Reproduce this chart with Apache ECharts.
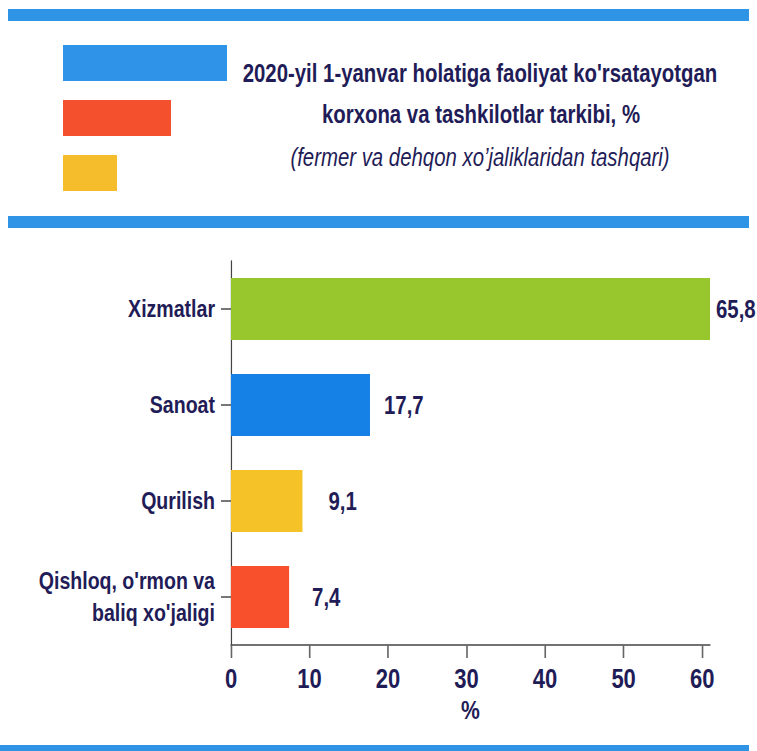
<!DOCTYPE html>
<html>
<head>
<meta charset="utf-8">
<script src="https://cdn.jsdelivr.net/npm/echarts@6/dist/echarts.min.js"></script>
<style>
  html, body { margin: 0; padding: 0; background: #fff; overflow: hidden; width: 757px; height: 751px; }
  /* the reference uses a narrow font: draw wider and squeeze horizontally */
  #chart { width: 929px; height: 751px; transform: scaleX(0.815); transform-origin: 0 0; }
</style>
</head>
<body>
<div id="chart"></div>
<script>
// tarmoqlar (yuqoridan pastga)
const categories = ["Xizmatlar", "Sanoat", "Qurilish", "Qishloq, o'rmon va\nbaliq xo'jaligi"];
const shares = [65.8, 17.7, 9.1, 7.4];
const barColors = ["#97c72c", "#1580e6", "#f5c227", "#f8502c"];
const xTicks = [0, 10, 20, 30, 40, 50, 60];

const S = 0.815; // horizontal squeeze
function sx(px) { return px / S; }

const FONT = "'Liberation Sans', Arial, sans-serif";
const NAVY = "#1f1c57";
// label gap to the right of each bar (screen px)
const labelGap = [6, 14, 26, 23];

const myChart = echarts.init(document.getElementById("chart"), null, { renderer: "svg" });

const option = {
  backgroundColor: "#fff",
  animation: false,
  graphic: [
    // stripes
    { type: "rect", shape: { x: sx(8), y: 9, width: sx(741), height: 12 }, style: { fill: "#2f93e6" } },
    { type: "rect", shape: { x: sx(8), y: 216, width: sx(741), height: 12 }, style: { fill: "#2f93e6" } },
    { type: "rect", shape: { x: 0, y: 745, width: sx(749), height: 8 }, style: { fill: "#2f93e6" } },
    // decorative bars in the header
    { type: "rect", shape: { x: sx(63), y: 45, width: sx(164), height: 36 }, style: { fill: "#2f93e8" } },
    { type: "rect", shape: { x: sx(63), y: 100, width: sx(108), height: 36 }, style: { fill: "#f5502d" } },
    { type: "rect", shape: { x: sx(63), y: 155, width: sx(54), height: 36 }, style: { fill: "#f5bc2c" } },
    // title
    {
      type: "text", x: sx(480), y: 73,
      style: {
        text: "2020-yil 1-yanvar holatiga faoliyat ko'rsatayotgan",
        font: "bold 25px " + FONT, fill: NAVY, textAlign: "center", textVerticalAlign: "middle"
      }
    },
    {
      type: "text", x: sx(481), y: 114,
      style: {
        text: "korxona va tashkilotlar tarkibi, %",
        font: "bold 25px " + FONT, fill: NAVY, textAlign: "center", textVerticalAlign: "middle"
      }
    },
    {
      type: "text", x: sx(480), y: 157,
      style: {
        text: "(fermer va dehqon xo\u2019jaliklaridan tashqari)",
        font: "italic 25px " + FONT, fill: NAVY, textAlign: "center", textVerticalAlign: "middle"
      }
    }
  ],
  grid: {
    left: sx(231),
    top: 261,
    width: sx(479),
    height: 384,
    outerBoundsMode: "none"
  },
  xAxis: {
    type: "value",
    min: 0,
    max: 61,
    interval: 10,
    name: "%",
    nameLocation: "middle",
    nameGap: 52,
    nameTextStyle: { color: NAVY, fontFamily: FONT, fontWeight: "bold", fontSize: 26 },
    axisLine: { show: true, lineStyle: { color: "#444", width: 1.5 } },
    axisTick: { show: true, length: 13, lineStyle: { color: "#666", width: 2 } },
    axisLabel: {
      color: NAVY, fontFamily: FONT, fontWeight: "bold", fontSize: 27, margin: 20,
      showMaxLabel: false,
      formatter: function (v) { return xTicks.indexOf(v) > -1 ? String(v) : ""; }
    },
    splitLine: { show: false }
  },
  yAxis: {
    type: "category",
    inverse: true,
    data: categories,
    axisLine: { lineStyle: { color: "#444", width: 1.5 } },
    axisTick: { show: true, alignWithLabel: true, length: sx(10), lineStyle: { color: "#777", width: 2 } },
    axisLabel: {
      color: NAVY, fontFamily: FONT, fontWeight: "bold", fontSize: 24, margin: sx(16),
      lineHeight: 32, align: "right"
    }
  },
  series: [
    {
      type: "bar",
      barWidth: 62,
      clip: true,
      data: shares.map(function (v, i) {
        return {
          value: v,
          itemStyle: { color: barColors[i] },
          label: { distance: sx(labelGap[i]) }
        };
      }),
      label: {
        show: true,
        position: "right",
        color: NAVY,
        fontFamily: FONT,
        fontWeight: "bold",
        fontSize: 25,
        formatter: function (p) { return String(p.value).replace(".", ","); }
      }
    }
  ]
};

myChart.setOption(option);
</script>
</body>
</html>
